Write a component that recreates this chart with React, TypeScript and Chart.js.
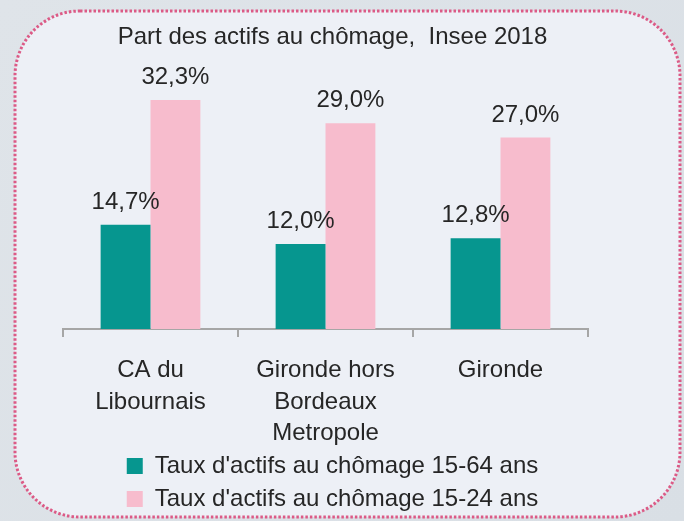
import React, { useEffect, useRef } from "react";
import { Chart, registerables } from "chart.js";

Chart.register(...registerables);

const categories: string[][] = [
  ["CA du", "Libournais"],
  ["Gironde hors", "Bordeaux", "Metropole"],
  ["Gironde"],
];
const seriesNames = [
  "Taux d'actifs au chômage 15-64 ans",
  "Taux d'actifs au chômage 15-24 ans",
];
const rate1564 = [14.7, 12.0, 12.8];
const rate1524 = [32.3, 29.0, 27.0];
const titleText = "Part des actifs au chômage,  Insee 2018";

const FONT = '"Liberation Sans", Arial, sans-serif';
const TEXT = "#262626";
const TEAL = "#06968f";
const PINK = "#f7bccd";

const panelPlugin = {
  id: "panel",
  beforeDraw(chart: any) {
    const ctx = chart.ctx;
    const w = chart.width;
    const h = chart.height;
    ctx.save();
    const g = ctx.createLinearGradient(0, 0, w, h);
    g.addColorStop(0, "#dfe4e9");
    g.addColorStop(1, "#d9dfe5");
    ctx.fillStyle = g;
    ctx.fillRect(0, 0, w, h);
    const x0 = 15, y0 = 11, x1 = 680, y1 = 517, r = 65;
    ctx.beginPath();
    ctx.moveTo(x0 + r, y0);
    ctx.lineTo(x1 - r, y0);
    ctx.arcTo(x1, y0, x1, y0 + r, r);
    ctx.lineTo(x1, y1 - r);
    ctx.arcTo(x1, y1, x1 - r, y1, r);
    ctx.lineTo(x0 + r, y1);
    ctx.arcTo(x0, y1, x0, y1 - r, r);
    ctx.lineTo(x0, y0 + r);
    ctx.arcTo(x0, y0, x0 + r, y0, r);
    ctx.closePath();
    ctx.fillStyle = "#edf0f6";
    ctx.fill();
    ctx.setLineDash([2.5, 2]);
    ctx.lineWidth = 3;
    ctx.strokeStyle = "#dc5a86";
    ctx.stroke();
    ctx.restore();
  },
};

const valueLabelPlugin = {
  id: "valueLabels",
  afterDatasetsDraw(chart: any) {
    const ctx = chart.ctx;
    ctx.save();
    ctx.font = `24px ${FONT}`;
    ctx.fillStyle = TEXT;
    ctx.textAlign = "center";
    ctx.textBaseline = "alphabetic";
    chart.data.datasets.forEach((ds: any, i: number) => {
      const meta = chart.getDatasetMeta(i);
      meta.data.forEach((el: any, j: number) => {
        const v = ds.data[j] as number;
        const txt = v.toFixed(1).replace(".", ",") + "%";
        ctx.fillText(txt, el.x, el.y - 16);
      });
    });
    ctx.restore();
  },
};

export default function App() {
  const ref = useRef<HTMLCanvasElement | null>(null);
  useEffect(() => {
    document.body.style.margin = "0";
    const canvas = ref.current!;
    const chart = new Chart(canvas, {
      type: "bar",
      data: {
        labels: categories,
        datasets: [
          {
            label: seriesNames[0],
            data: rate1564,
            backgroundColor: TEAL,
            categoryPercentage: 0.57,
            barPercentage: 1,
          },
          {
            label: seriesNames[1],
            data: rate1524,
            backgroundColor: PINK,
            categoryPercentage: 0.57,
            barPercentage: 1,
          },
        ],
      },
      options: {
        responsive: false,
        animation: false,
        layout: { padding: { left: 63, right: 82, top: 0, bottom: 0 } },
        scales: {
          x: {
            grid: {
              display: true,
              drawOnChartArea: false,
              drawTicks: true,
              tickLength: 8,
              color: "#a6a6a6",
              lineWidth: 2,
              offset: true,
            },
            border: { display: true, color: "#a6a6a6", width: 2 },
            ticks: {
              color: TEXT,
              font: { family: FONT, size: 24, lineHeight: 1.33 },
              padding: 17,
              maxRotation: 0,
              autoSkip: false,
            },
            afterFit: (scale: any) => {
              scale.height = 116;
            },
          },
          y: {
            display: true,
            position: "right",
            min: 0,
            max: 39.2,
            grid: { display: false },
            border: { display: false },
            ticks: { display: false },
            afterFit: (scale: any) => {
              scale.width = 14;
            },
          },
        },
        plugins: {
          title: {
            display: true,
            text: titleText,
            color: TEXT,
            font: { family: FONT, size: 24, weight: "normal", lineHeight: 1 },
            padding: { top: 25, bottom: 2 },
          },
          legend: {
            display: true,
            position: "bottom",
            labels: {
              color: TEXT,
              font: { family: FONT, size: 24, lineHeight: 1 },
              boxWidth: 16,
              boxHeight: 16,
              padding: 9,
            },
          },
          tooltip: { enabled: false },
        },
      },
      plugins: [panelPlugin, valueLabelPlugin],
    });
    return () => chart.destroy();
  }, []);
  return (
    <div style={{ width: 684, height: 521 }}>
      <canvas ref={ref} width={684} height={521} />
    </div>
  );
}
